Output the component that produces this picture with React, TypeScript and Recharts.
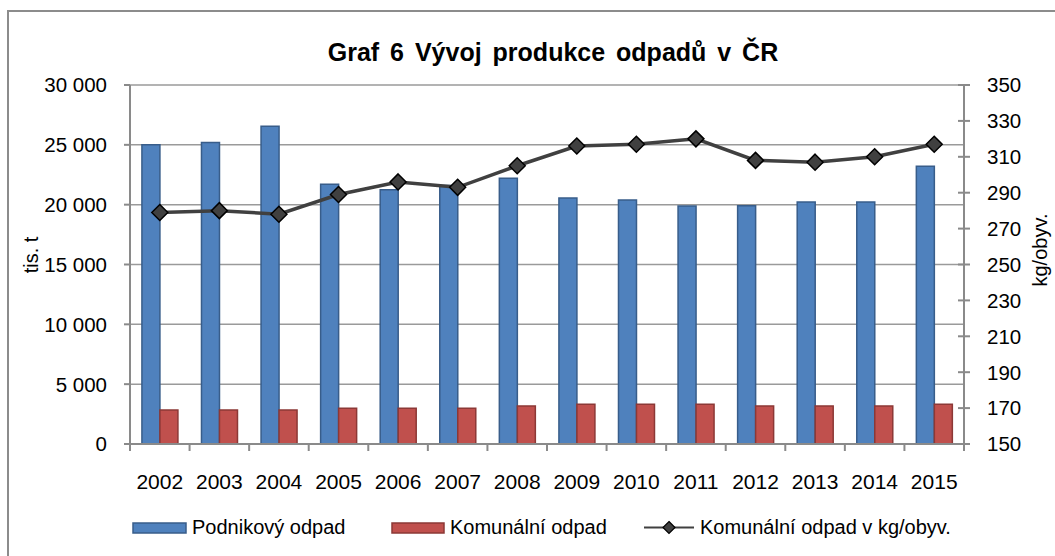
import React from "react";
import { ComposedChart, Bar, Line, XAxis, YAxis, CartesianGrid } from "recharts";

const years = ["2002","2003","2004","2005","2006","2007","2008","2009","2010","2011","2012","2013","2014","2015"];
const podnikovy = [25000, 25200, 26550, 21700, 21250, 21600, 22200, 20550, 20400, 19880, 19900, 20220, 20220, 23200];
const komunalni = [2840, 2840, 2840, 2980, 2980, 2980, 3180, 3320, 3320, 3320, 3180, 3180, 3180, 3320];
const naObyv = [279, 280, 278, 289, 296, 293, 305, 316, 317, 320, 308, 307, 310, 317];
const leftTicks = [0, 5000, 10000, 15000, 20000, 25000, 30000];
const rightTicks = [150, 170, 190, 210, 230, 250, 270, 290, 310, 330, 350];

const data = years.map((y, i) => ({ year: y, podnikovy: podnikovy[i], komunalni: komunalni[i], naObyv: naObyv[i] }));

const W = 1055, H = 556;
const PLOT_L = 130, PLOT_R = 964, PLOT_T = 85, PLOT_B = 444;
const BAND = (PLOT_R - PLOT_L) / years.length;
const FONT = "'Liberation Sans', Arial, sans-serif";
const AXIS = "#8a8a8a";
const XAXIS_H = 30;

const fmt = (v: number) => String(v).replace(/\B(?=(\d{3})+(?!\d))/g, "\u00a0");

const XTick = (props: any) => {
  const { x, payload, index } = props;
  const last = index === years.length - 1;
  return (
    <g>
      <text x={x} y={PLOT_B + 45} textAnchor="middle" fontSize={21} fill="#000" fontFamily={FONT}>{payload.value}</text>
      <line x1={x - BAND / 2} x2={x - BAND / 2} y1={PLOT_B} y2={PLOT_B + 7} stroke={AXIS} strokeWidth={2} />
      {last && <line x1={x + BAND / 2} x2={x + BAND / 2} y1={PLOT_B} y2={PLOT_B + 7} stroke={AXIS} strokeWidth={2} />}
    </g>
  );
};

const LeftTick = (props: any) => {
  const { y, payload } = props;
  return (
    <g>
      <line x1={PLOT_L - 6} x2={PLOT_L} y1={y} y2={y} stroke={AXIS} strokeWidth={2} />
      <text x={PLOT_L - 23} y={y} dy="0.36em" textAnchor="end" fontSize={20.5} fill="#000" fontFamily={FONT}>{fmt(payload.value)}</text>
    </g>
  );
};

const RightTick = (props: any) => {
  const { y, payload } = props;
  return (
    <g>
      <line x1={PLOT_R - 6} x2={PLOT_R + 6} y1={y} y2={y} stroke={AXIS} strokeWidth={2} />
      <text x={PLOT_R + 23} y={y} dy="0.36em" textAnchor="start" fontSize={20.5} fill="#000" fontFamily={FONT}>{payload.value}</text>
    </g>
  );
};

const Diamond = (props: any) => {
  const { cx, cy } = props;
  if (cx == null || cy == null) return null;
  const r = 8;
  return <polygon points={`${cx},${cy - r} ${cx + r},${cy} ${cx},${cy + r} ${cx - r},${cy}`} fill="#404040" stroke="#000" strokeWidth={1.5} />;
};

export default function App() {
  return (
    <div style={{ position: "absolute", left: 0, top: 0, width: W, height: H, overflow: "hidden", background: "#fff", fontFamily: FONT }}>
      <div style={{ position: "absolute", left: 7, top: 10, width: W + 50, height: H + 50, borderLeft: "2px solid #8c8c8c", borderTop: "2px solid #8c8c8c" }} />
      <div style={{ position: "absolute", left: 0, top: 0 }}>
        <ComposedChart
          width={W}
          height={H}
          data={data}
          margin={{ top: PLOT_T, bottom: H - PLOT_B - XAXIS_H, left: 0, right: 0 }}
          barCategoryGap="20%"
          barGap={0}
        >
          <CartesianGrid vertical={false} horizontal stroke="#9a9a9a" strokeWidth={1.5} yAxisId="left" />
          <XAxis dataKey="year" height={XAXIS_H} interval={0} tickLine={false} axisLine={{ stroke: AXIS, strokeWidth: 2 }} tick={<XTick />} />
          <YAxis yAxisId="left" orientation="left" width={PLOT_L} domain={[0, 30000]} ticks={leftTicks} interval={0} tickLine={false} axisLine={{ stroke: AXIS, strokeWidth: 2 }} tick={<LeftTick />} />
          <YAxis yAxisId="right" orientation="right" width={W - PLOT_R} domain={[150, 350]} ticks={rightTicks} interval={0} tickLine={false} axisLine={{ stroke: AXIS, strokeWidth: 2 }} tick={<RightTick />} />
          <Bar yAxisId="left" dataKey="podnikovy" fill="#4F81BD" stroke="#385D8A" strokeWidth={1.5} isAnimationActive={false} />
          <Bar yAxisId="left" dataKey="komunalni" fill="#C0504D" stroke="#8C3836" strokeWidth={1.5} isAnimationActive={false} />
          <Line yAxisId="right" dataKey="naObyv" stroke="#404040" strokeWidth={3.5} dot={<Diamond />} activeDot={false} isAnimationActive={false} />
        </ComposedChart>
      </div>
      <svg width={W} height={H} style={{ position: "absolute", left: 0, top: 0, pointerEvents: "none" }}>
        <text x={553} y={61} textAnchor="middle" fontSize={25} fontWeight="bold" fill="#000" fontFamily={FONT} wordSpacing={4}>Graf 6 Vývoj produkce odpadů v ČR</text>
        <text x={0} y={0} transform="translate(38,255) rotate(-90)" textAnchor="middle" fontSize={20} fill="#000" fontFamily={FONT}>tis. t</text>
        <text x={0} y={0} transform="translate(1047,250) rotate(-90)" textAnchor="middle" fontSize={20} fill="#000" fontFamily={FONT}>kg/obyv.</text>
        <rect x={133} y={523} width={53} height={10} fill="#4F81BD" stroke="#385D8A" strokeWidth={1.5} />
        <text x={192} y={534} fontSize={20} fill="#000" fontFamily={FONT}>Podnikový odpad</text>
        <rect x={392} y={523} width={52} height={10} fill="#C0504D" stroke="#8C3836" strokeWidth={1.5} />
        <text x={450} y={534} fontSize={20} fill="#000" fontFamily={FONT}>Komunální odpad</text>
        <line x1={644} x2={694} y1={527.5} y2={527.5} stroke="#404040" strokeWidth={2} />
        <polygon points="669,521.5 675,527.5 669,533.5 663,527.5" fill="#404040" stroke="#000" strokeWidth={1.2} />
        <text x={700} y={534} fontSize={20} fill="#000" fontFamily={FONT}>Komunální odpad v kg/obyv.</text>
      </svg>
    </div>
  );
}
